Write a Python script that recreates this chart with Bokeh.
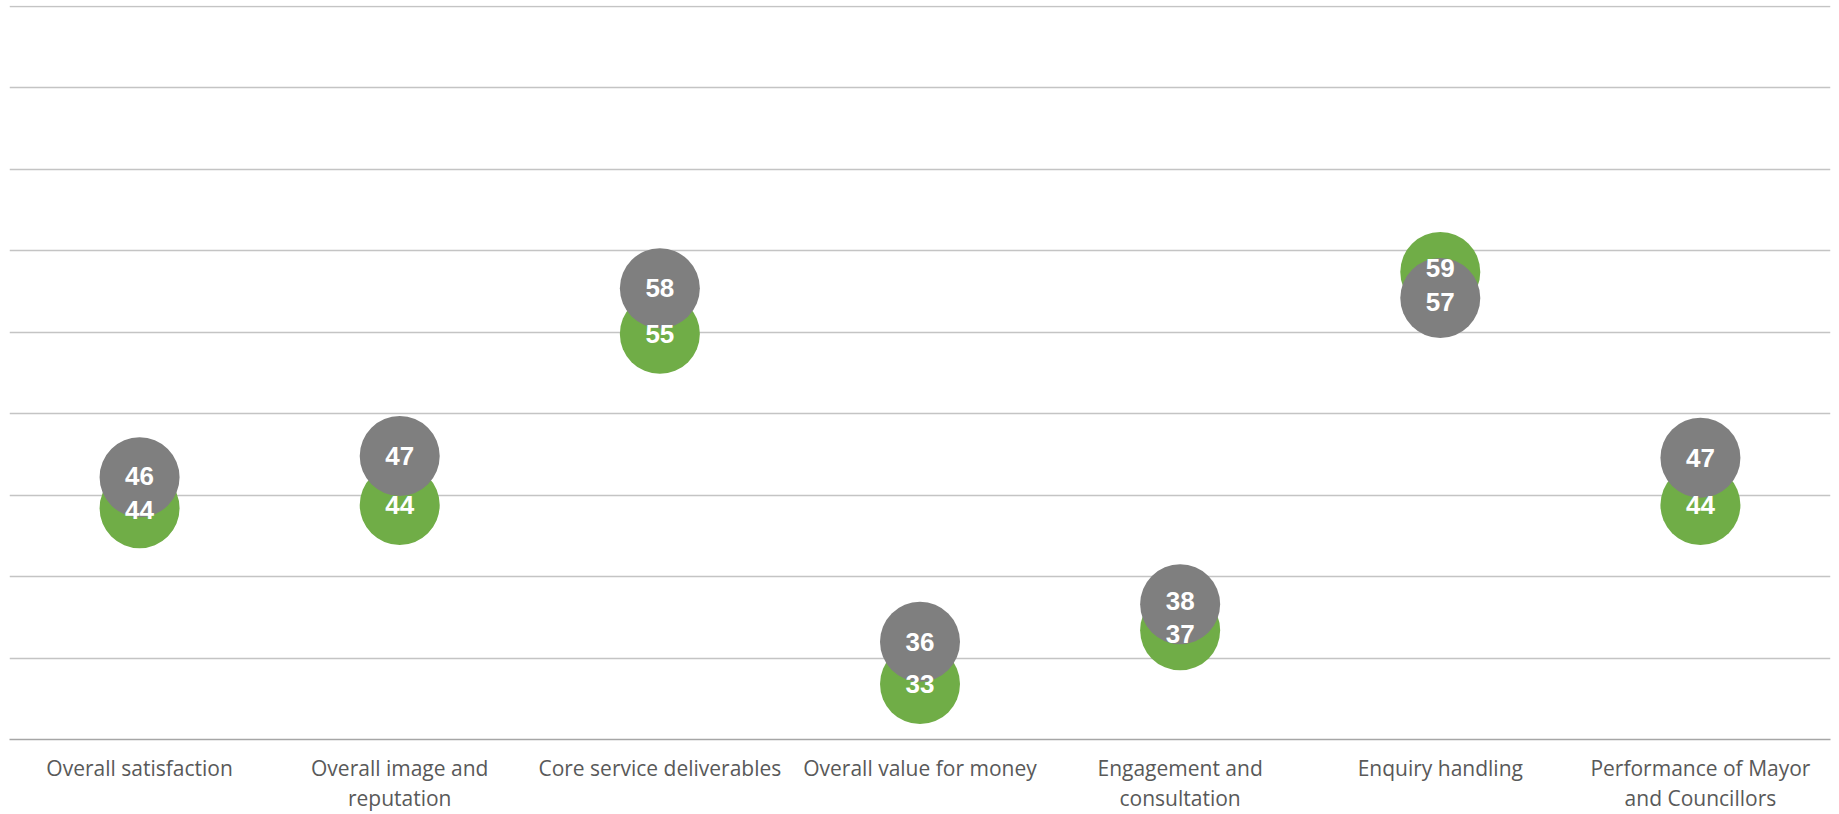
from bokeh.plotting import figure
from bokeh.models import FactorRange, Range1d, ColumnDataSource, FixedTicker
from bokeh.core.properties import value
from bokeh.embed import file_html
from bokeh.resources import INLINE

# ---- data ----
categories = [
    "Overall satisfaction",
    "Overall image and\nreputation",
    "Core service deliverables",
    "Overall value for money",
    "Engagement and\nconsultation",
    "Enquiry handling",
    "Performance of Mayor\nand Councillors",
]
green_scores = [44.2, 44.4, 54.9, 33.4, 36.7, 58.7, 44.4]
grey_scores = [46.1, 47.4, 57.7, 36.0, 38.3, 57.1, 47.3]
y_ticks = [30, 35, 40, 45, 50, 55, 60, 65, 70, 75]

GREEN = "#70AD47"
GREY = "#7F7F7F"

W, H = 1839, 814
p = figure(
    x_range=FactorRange(*categories, range_padding=0),
    y_range=Range1d(30, 75.06),
    width=W, height=H,
    output_backend="svg", toolbar_location=None,
    min_border_left=9, min_border_right=9, min_border_top=5, min_border_bottom=0,
)
p.outline_line_color = None
p.background_fill_color = "white"
p.border_fill_color = "white"

p.xgrid.grid_line_color = None
p.yaxis.ticker = FixedTicker(ticks=y_ticks)
p.ygrid.ticker = FixedTicker(ticks=y_ticks)
p.ygrid.grid_line_color = "#c4c4c4"
p.ygrid.grid_line_width = 1.3
p.yaxis.visible = False

ax = p.xaxis[0]
ax.axis_line_color = "#a6a6a6"
ax.axis_line_width = 1.5
ax.major_tick_line_color = None
ax.minor_tick_line_color = None
ax.major_label_text_font = "Open Sans"
ax.major_label_text_font_size = "21px"
ax.major_label_text_line_height = 1.08
ax.major_label_text_color = "#595959"
ax.major_label_standoff = 8

# label nudge so the two numbers of a pair do not collide
px_per_unit = 744 / 45.06
min_sep = 34
g_off, s_off = [], []
for g, s in zip(green_scores, grey_scores):
    sep = (s - g) * px_per_unit
    push = max(0.0, (min_sep - abs(sep)) / 2)
    sign = 1 if s >= g else -1
    s_off.append(-sign * push)   # screen y offset (negative = up)
    g_off.append(sign * push)

src_g = ColumnDataSource(dict(x=categories, y=green_scores,
                              t=[str(round(v)) for v in green_scores], off=g_off))
src_s = ColumnDataSource(dict(x=categories, y=grey_scores,
                              t=[str(round(v)) for v in grey_scores], off=s_off))

p.scatter("x", "y", source=src_g, marker="circle", size=80,
          fill_color=GREEN, line_color=None)
p.scatter("x", "y", source=src_s, marker="circle", size=80,
          fill_color=GREY, line_color=None)

for src in (src_g, src_s):
    p.text("x", "y", text="t", source=src, y_offset="off",
           text_align="center", text_baseline="middle",
           text_font=value("Liberation Sans"), text_font_style="bold",
           text_font_size="26px", text_color="white")

open("out.html", "w").write(file_html(p, INLINE))
